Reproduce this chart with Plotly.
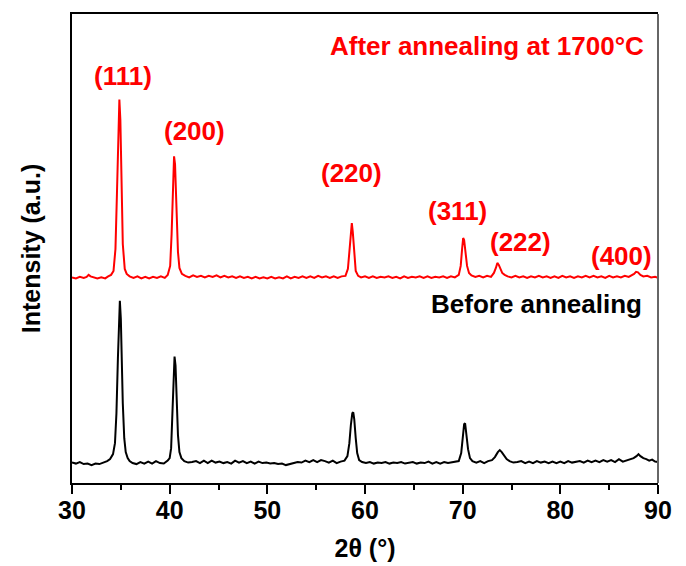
import plotly.graph_objects as go

# ---- Data (intensity in arbitrary units) ----
before_x = [30.0, 30.4, 30.8, 31.2, 31.6, 32.0, 32.4, 32.8, 33.2, 33.6, 33.9, 34.2, 34.4, 34.55,
            34.7, 34.8, 34.9, 35.0, 35.1, 35.2, 35.35, 35.5, 35.7, 35.9, 36.2, 36.6, 37.0, 37.4,
            37.8, 38.2, 38.6, 39.0, 39.4, 39.8, 40.0, 40.15, 40.3, 40.4, 40.5, 40.6, 40.7, 40.85,
            41.0, 41.2, 41.5, 41.9, 42.3, 42.7, 43.1, 43.5, 43.9, 44.3, 44.7, 45.1, 45.5, 45.9,
            46.3, 46.7, 47.1, 47.5, 47.9, 48.3, 48.7, 49.1, 49.5, 49.9, 50.3, 50.7, 51.1, 51.5,
            51.9, 52.3, 52.7, 53.1, 53.5, 53.9, 54.3, 54.7, 55.1, 55.5, 55.9, 56.3, 56.7, 57.1,
            57.5, 57.9, 58.2, 58.4, 58.55, 58.7, 58.8, 58.9, 59.05, 59.2, 59.4, 59.7, 60.1, 60.5,
            60.9, 61.3, 61.7, 62.1, 62.5, 62.9, 63.3, 63.7, 64.1, 64.5, 64.9, 65.3, 65.7, 66.1,
            66.5, 66.9, 67.3, 67.7, 68.1, 68.5, 68.9, 69.3, 69.6, 69.85, 70.0, 70.15, 70.25, 70.4,
            70.55, 70.75, 71.0, 71.4, 71.8, 72.2, 72.6, 73.0, 73.3, 73.6, 73.8, 74.0, 74.25, 74.5,
            74.8, 75.2, 75.6, 76.0, 76.4, 76.8, 77.2, 77.6, 78.0, 78.4, 78.8, 79.2, 79.6, 80.0,
            80.4, 80.8, 81.2, 81.6, 82.0, 82.4, 82.8, 83.2, 83.6, 84.0, 84.4, 84.8, 85.2, 85.6,
            86.0, 86.4, 86.8, 87.2, 87.5, 87.8, 88.0, 88.2, 88.5, 88.8, 89.1, 89.4, 89.7, 90.0]
before_y = [20.5, 19.5, 21, 19, 19.5, 18, 19.5, 19, 20.5, 22, 24, 29, 40, 70,
            125, 170, 183, 165, 120, 80, 45, 31, 25, 22, 20, 19, 21, 19.5,
            21.5, 19.5, 22, 20, 19.5, 22.5, 25, 35, 75, 110, 127, 118, 85, 48,
            31, 25, 22, 20.5, 21, 22, 20, 22.5, 20, 22.5, 20.5, 21.5, 20, 21,
            19.5, 22.5, 20.5, 22, 20, 21.5, 19.5, 21.5, 20, 20.5, 19.5, 20, 19, 19.5,
            18, 19, 19.5, 21, 20.5, 22.5, 21, 23, 21, 23, 22, 20.5, 22.5, 20,
            21.5, 22.5, 27, 40, 58, 70, 71, 64, 45, 30, 23, 21, 20, 21,
            19.5, 20.5, 20, 21, 19.5, 20.5, 20, 21, 19.5, 20.5, 21, 19.5, 20.5, 20,
            21.5, 19.5, 21, 19.5, 21, 20, 20.5, 21, 22, 30, 45, 59, 60, 48,
            34, 25, 22, 20.5, 22, 20, 22, 23, 26, 31, 33, 31, 27, 24,
            22, 20.5, 21, 22, 20, 21.5, 20, 22, 20.5, 21.5, 20, 21.5, 20, 21.5,
            20, 22, 20.5, 21, 22, 20.5, 22.5, 21, 22.5, 21, 23, 21.5, 23, 21,
            24, 21.5, 23, 24, 25, 27, 29, 27, 25, 24, 22.5, 23.5, 21.5, 21]

after_x = [30.0, 30.4, 30.8, 31.2, 31.5, 31.7, 31.9, 32.2, 32.6, 33.0, 33.4, 33.7, 34.0, 34.25,
           34.45, 34.6, 34.75, 34.85, 34.95, 35.05, 35.2, 35.4, 35.6, 35.9, 36.3, 36.7, 37.1,
           37.5, 37.9, 38.3, 38.7, 39.1, 39.5, 39.8, 40.05, 40.2, 40.35, 40.45, 40.55, 40.7,
           40.85, 41.0, 41.25, 41.6, 42.0, 42.4, 42.8, 43.2, 43.6, 44.0, 44.4, 44.8, 45.2, 45.6,
           46.0, 46.4, 46.8, 47.2, 47.6, 48.0, 48.4, 48.8, 49.2, 49.6, 50.0, 50.4, 50.8, 51.2,
           51.6, 52.0, 52.4, 52.8, 53.2, 53.6, 54.0, 54.4, 54.8, 55.2, 55.6, 56.0, 56.4, 56.8,
           57.2, 57.6, 58.0, 58.25, 58.4, 58.55, 58.65, 58.75, 58.9, 59.05, 59.3, 59.6, 60.0,
           60.4, 60.8, 61.2, 61.6, 62.0, 62.4, 62.8, 63.2, 63.6, 64.0, 64.4, 64.8, 65.2, 65.6,
           66.0, 66.4, 66.8, 67.2, 67.6, 68.0, 68.4, 68.8, 69.2, 69.6, 69.8, 69.95, 70.05, 70.15,
           70.3, 70.45, 70.65, 70.9, 71.3, 71.7, 72.1, 72.5, 72.9, 73.2, 73.4, 73.55, 73.7, 73.85,
           74.05, 74.3, 74.6, 75.0, 75.4, 75.8, 76.2, 76.6, 77.0, 77.4, 77.8, 78.2, 78.6, 79.0,
           79.4, 79.8, 80.2, 80.6, 81.0, 81.4, 81.8, 82.2, 82.6, 83.0, 83.4, 83.8, 84.2, 84.6,
           85.0, 85.4, 85.8, 86.2, 86.6, 87.0, 87.3, 87.55, 87.75, 87.95, 88.2, 88.5, 88.9, 89.3,
           89.7, 90.0]
after_y = [206.5, 205.5, 207, 206, 207, 209, 207.5, 206.5, 205.5, 206.5, 205.5, 207.5, 209, 213,
           235, 290, 360, 385, 365, 300, 240, 215, 210, 207.5, 206, 207.5, 205.5,
           207, 205.5, 207, 206, 207.5, 206, 209, 218, 250, 300, 328, 320, 275,
           232, 216, 210, 208, 206.5, 208.5, 207, 208, 206.5, 208, 207, 208.5, 206.5, 208,
           206.5, 207.5, 206, 207.5, 206, 207, 205.5, 207, 205.5, 206.5, 205.5, 207, 205.5, 206.5,
           205.5, 207.5, 205.5, 207, 206, 207.5, 206, 207.5, 206, 208, 206.5, 207.5, 206, 207.5,
           206, 207.5, 208, 215, 235, 257, 261, 252, 228, 213, 208, 206.5, 207.5,
           206, 207.5, 206, 207, 206.5, 207.5, 206, 207, 205.5, 207.5, 206, 207, 206.5, 207.5,
           206, 207.5, 206, 207, 206.5, 207.5, 206, 207.5, 206.5, 209, 218, 236, 246, 244,
           232, 218, 211, 208.5, 207, 208, 206.5, 208, 207, 211, 216, 221, 219, 215,
           211, 209, 207.5, 206.5, 208, 206.5, 207.5, 206, 207.5, 206.5, 208, 206.5, 207.5, 206,
           207.5, 206, 208, 206.5, 207.5, 206, 207.5, 206.5, 208, 206.5, 208, 206.5, 207.5, 206,
           208, 206.5, 207.5, 206.5, 208, 207, 208.5, 210, 212, 211.5, 209, 207.5, 208, 206.5,
           207, 206]

peak_labels = ["(111)", "(200)", "(220)", "(311)", "(222)", "(400)"]
peak_label_x = [35.22, 42.59, 58.62, 69.52, 75.97, 86.31]
peak_label_y = [409, 354, 311, 273, 242, 228]

after_text = "After annealing at 1700°C"
before_text = "Before annealing"
x_ticks = [30, 40, 50, 60, 70, 80, 90]

FONT = "Arial, Liberation Sans, Helvetica, sans-serif"

fig = go.Figure()
fig.add_trace(go.Scatter(x=before_x, y=before_y, mode="lines",
                         line=dict(color="black", width=2), name=before_text))
fig.add_trace(go.Scatter(x=after_x, y=after_y, mode="lines",
                         line=dict(color="#ff0000", width=2), name=after_text))

for t, x, y in zip(peak_labels, peak_label_x, peak_label_y):
    fig.add_annotation(x=x, y=y, text=t, showarrow=False, xanchor="center", yanchor="middle",
                       font=dict(family=FONT, size=26, color="#ff0000", weight="bold"))

fig.add_annotation(x=88.77, y=439, text=after_text, showarrow=False, xanchor="right",
                   yanchor="middle", font=dict(family=FONT, size=26, color="#ff0000", weight="bold"))
fig.add_annotation(x=88.56, y=180, text=before_text, showarrow=False, xanchor="right",
                   yanchor="middle", font=dict(family=FONT, size=26, color="black", weight="bold"))

# right border (gray)
fig.add_shape(type="line", xref="paper", yref="paper", x0=1, x1=1, y0=0, y1=1,
              line=dict(color="#666666", width=2))

fig.update_layout(
    width=686, height=566,
    margin=dict(l=64, r=36, t=4, b=91),
    paper_bgcolor="white", plot_bgcolor="white",
    showlegend=False,
    font=dict(family=FONT, color="black"),
)
fig.update_xaxes(
    range=[30, 90], tickvals=x_ticks, ticktext=[str(v) for v in x_ticks],
    ticks="outside", ticklen=9, tickwidth=2, tickcolor="black",
    minor=dict(dtick=5, tick0=30, ticks="outside", ticklen=5, tickwidth=2, tickcolor="black"),
    showline=True, linecolor="black", linewidth=2, mirror=True,
    showgrid=False, zeroline=False,
    ticklabelstandoff=-5,
    tickfont=dict(family=FONT, size=25, color="black", weight="bold"),
    title=dict(text="2θ (°)", font=dict(family=FONT, size=25, color="black", weight="bold"),
               standoff=16),
)
fig.update_yaxes(
    range=[0, 471], showticklabels=False, ticks="",
    showline=True, linecolor="black", linewidth=2, mirror=False,
    showgrid=False, zeroline=False,
    title=dict(text="Intensity (a.u.)", font=dict(family=FONT, size=25, color="black", weight="bold"),
               standoff=22),
)

fig.write_html("out.html")
